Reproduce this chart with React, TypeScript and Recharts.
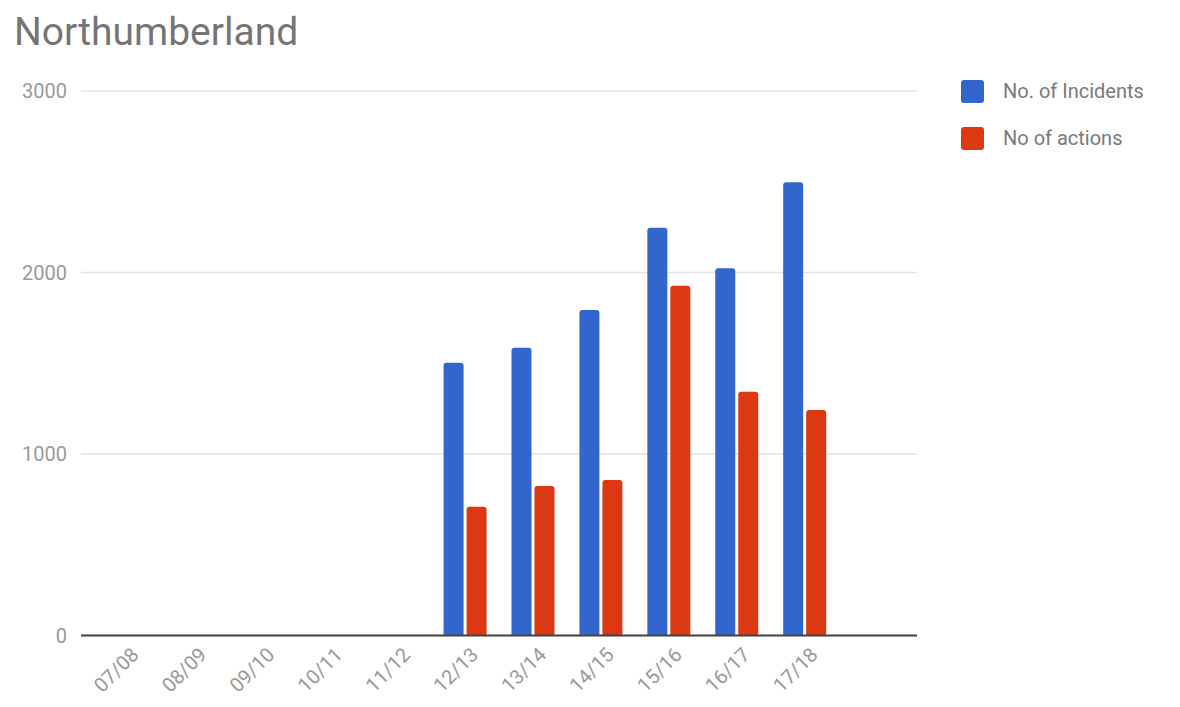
import { Bar, BarChart, CartesianGrid, ReferenceLine, XAxis, YAxis } from "recharts";

const seasons = ["07/08", "08/09", "09/10", "10/11", "11/12", "12/13", "13/14", "14/15", "15/16", "16/17", "17/18", ""];
const incidents = [null, null, null, null, null, 1503, 1586, 1793, 2247, 2023, 2497, null];
const actions = [null, null, null, null, null, 710, 824, 857, 1927, 1343, 1242, null];
const yTicks = [0, 1000, 2000, 3000];

const seriesNames = ["No. of Incidents", "No of actions"];
const seriesColors = ["#3366cc", "#dc3912"];

const data = seasons.map((season, i) => ({
  season,
  incidents: incidents[i],
  actions: actions[i],
}));

const FONT = "Roboto, 'Noto Sans', Arial, sans-serif";

function YTick({ y, payload }: any) {
  return (
    <text x={67} y={y} dy="0.35em" textAnchor="end" fill="#9a9a9a" fontSize={20} fontFamily={FONT}>
      {payload.value}
    </text>
  );
}

function XTick({ x, payload }: any) {
  const ax = x + 9;
  const ay = 651;
  return (
    <text
      x={ax}
      y={ay}
      dy="0.35em"
      textAnchor="end"
      transform={`rotate(-45 ${ax} ${ay})`}
      fill="#9a9a9a"
      fontSize={20}
      fontFamily={FONT}
    >
      {payload.value}
    </text>
  );
}

export default function App() {
  return (
    <div style={{ position: "absolute", left: 0, top: 0, width: 1180, height: 707, background: "#fff" }}>
      <div
        style={{
          position: "absolute",
          left: 14,
          top: 9,
          fontFamily: FONT,
          fontSize: 39,
          color: "#757575",
          lineHeight: "46px",
        }}
      >
        Northumberland
      </div>
      <BarChart
        width={1180}
        height={707}
        data={data}
        margin={{ top: 91, right: 263, bottom: 0, left: 0 }}
        barSize={20}
        barGap={3}
        accessibilityLayer={false}
      >
        <CartesianGrid vertical={false} stroke="#e3e3e3" strokeWidth={1.5} />
        <XAxis
          dataKey="season"
          interval={0}
          axisLine={false}
          tickLine={false}
          padding={{ left: 11, right: 10 }}
          tick={<XTick />}
          height={71.5}
        />
        <YAxis
          domain={[0, 3000]}
          ticks={yTicks}
          width={81}
          axisLine={false}
          tickLine={false}
          tick={<YTick />}
        />
        <Bar dataKey="incidents" name={seriesNames[0]} fill={seriesColors[0]} radius={[3, 3, 0, 0]} isAnimationActive={false} />
        <Bar dataKey="actions" name={seriesNames[1]} fill={seriesColors[1]} radius={[3, 3, 0, 0]} isAnimationActive={false} />
        <ReferenceLine y={0} stroke="#444" strokeWidth={2} />
      </BarChart>
      {seriesNames.map((name, i) => (
        <div
          key={name}
          style={{
            position: "absolute",
            left: 961,
            top: 80 + i * 47,
            display: "flex",
            alignItems: "center",
            fontFamily: FONT,
            fontSize: 20,
            color: "#7a7a7a",
          }}
        >
          <span
            style={{
              display: "inline-block",
              width: 23,
              height: 23,
              borderRadius: 3,
              background: seriesColors[i],
              marginRight: 19,
            }}
          />
          <span style={{ lineHeight: "23px" }}>{name}</span>
        </div>
      ))}
    </div>
  );
}
